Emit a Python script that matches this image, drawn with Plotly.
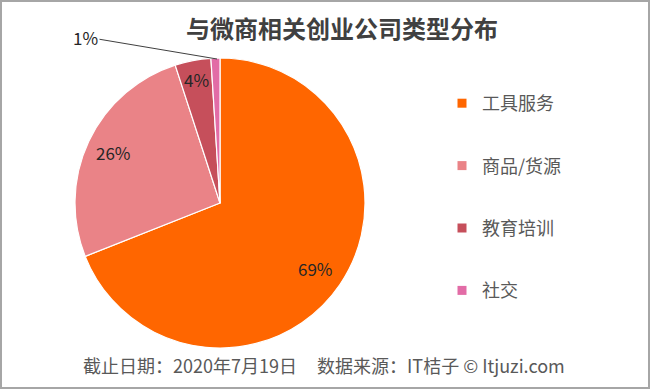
import math
import plotly.graph_objects as go

categories = ["工具服务", "商品/货源", "教育培训", "社交"]
values = [69, 26, 4, 1]
colors = ["#FF6600", "#EA8387", "#C64F5B", "#E26CA6"]

title_text = "与微商相关创业公司类型分布"
footer_text = "截止日期：2020年7月19日     数据来源：IT桔子 © Itjuzi.com"

W, H = 650, 389
cx, cy, r = 220, 203, 145
label_radius = [0.80, 0.81, 0.87]  # style: radial position of inside labels
FONT = "Noto Sans CJK SC, Noto Sans, sans-serif"

fig = go.Figure()
fig.add_trace(go.Pie(
    labels=categories,
    values=values,
    sort=False,
    direction="clockwise",
    rotation=0,
    marker=dict(colors=colors, line=dict(color="white", width=1.2)),
    textinfo="none",
    showlegend=False,
    hoverinfo="label+percent",
    domain=dict(x=[(cx - r) / W, (cx + r) / W],
                y=[(H - cy - r) / H, (H - cy + r) / H]),
))

# legend entries built from the same category/colour lists
for name, col in zip(categories, colors):
    fig.add_trace(go.Scatter(
        x=[None], y=[None], mode="markers", name=name, legendgroup=name,
        marker=dict(symbol="square", size=9, color=col),
        showlegend=True,
    ))

# percentage labels placed at slice mid-angles computed from the values
total = sum(values)
cum = 0
for i, v in enumerate(values):
    mid = (cum + v / 2) / total * 2 * math.pi
    cum += v
    if i < len(label_radius):
        rf = label_radius[i] * r
        px = cx + rf * math.sin(mid)
        py = cy - rf * math.cos(mid)
        fig.add_annotation(
            x=px / W, y=(H - py) / H, xref="paper", yref="paper",
            text=f"{round(v / total * 100)}%", showarrow=False,
            xanchor="center", yanchor="middle",
            font=dict(family=FONT, size=17, color="#262626"),
        )

# "1%" outside label with leader line
fig.add_annotation(
    x=(cx - 3) / W, y=(H - 59) / H, xref="paper", yref="paper",
    ax=98 - (cx - 3), ay=39 - 59, axref="pixel", ayref="pixel",
    text="", showarrow=True, arrowhead=0, arrowwidth=1, arrowcolor="#404040",
)
fig.add_annotation(
    x=85 / W, y=(H - 38) / H, xref="paper", yref="paper",
    text=f"{round(values[3] / total * 100)}%", showarrow=False,
    xanchor="center", yanchor="middle",
    font=dict(family=FONT, size=17, color="#262626"),
)

fig.add_annotation(
    x=342 / W, y=(H - 27) / H, xref="paper", yref="paper",
    text=f"<b>{title_text}</b>", showarrow=False, xanchor="center", yanchor="middle",
    font=dict(family=FONT, size=24, color="#404040"),
)
fig.add_annotation(
    x=324 / W, y=(H - 365) / H, xref="paper", yref="paper",
    text=footer_text, showarrow=False, xanchor="center", yanchor="middle",
    font=dict(family=FONT, size=18, color="#595959"),
)

fig.add_shape(type="rect", xref="paper", yref="paper",
              x0=1 / W, y0=1 / H, x1=1 - 1 / W, y1=1 - 1 / H,
              line=dict(color="#A6A6A6", width=2), layer="above")

fig.update_layout(
    width=W, height=H,
    margin=dict(l=0, r=0, t=0, b=0),
    paper_bgcolor="white", plot_bgcolor="white",
    xaxis=dict(visible=False), yaxis=dict(visible=False),
    legend=dict(
        x=442 / W, y=1 - 85 / H, xanchor="left", yanchor="top",
        font=dict(family=FONT, size=18, color="#595959"),
        tracegroupgap=36, itemwidth=30, bgcolor="rgba(0,0,0,0)",
    ),
)

fig.write_html("out.html", config={"displayModeBar": False},
               post_script="document.body.style.margin='0';document.body.style.padding='0';")
